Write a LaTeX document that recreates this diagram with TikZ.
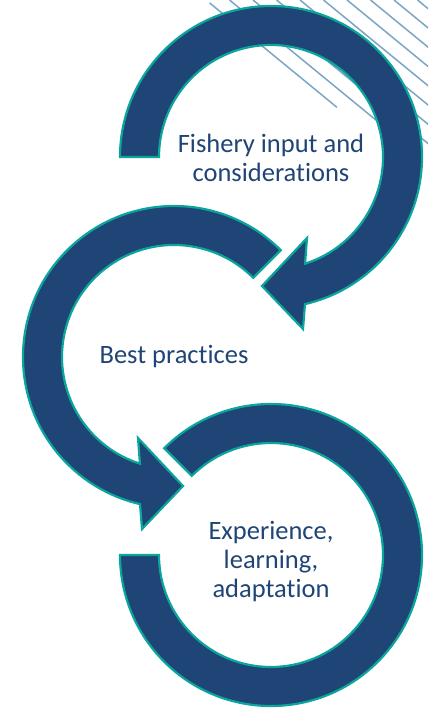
\documentclass[tikz,border=0pt]{standalone}
\usepackage{fontspec}
\setmainfont{Carlito}[Ligatures={NoCommon}]
\usepackage{xcolor}
\usetikzlibrary{positioning}

\definecolor{ringblue}{RGB}{31,68,118}
\definecolor{ringteal}{RGB}{12,165,155}
\definecolor{hatchblue}{RGB}{122,166,196}

\tikzset{
  ringband/.style={fill=ringblue,draw=ringteal,line width=2.2pt,line join=miter},
  hatchline/.style={draw=hatchblue,line width=1.5pt},
  ringlabel/.style={align=center,text=ringblue,font=\fontsize{26.5}{29}\selectfont,inner sep=0pt}
}

\begin{document}
\begin{tikzpicture}[x=1pt,y=1pt]
\useasboundingbox (0,0) rectangle (428,708);
\coordinate (c1) at (271,551);
\coordinate (c2) at (174,351);
\coordinate (c3) at (271,153);

% hatching in the top right corner
\begin{scope}
\clip (0,0) rectangle (428,708);
\draw [hatchline] (209.7,705) -- (337,600.6);
\draw [hatchline] (229.5,708) -- (380,584.6);
\foreach \k in {2,...,9}
  \draw [hatchline] (206+23.5*\k,708) -- ++(220,-180.4);
\end{scope}

% first ring, arrow pointing down left
\begin{scope}[shift={(c1)}]
\filldraw [ringband] (180:151pt) arc [start angle=180, end angle=-77, radius=151pt]
  -- (32,-172) -- (-9,-129) -- (36,-81)
  -- (-72.3:112pt) arc [start angle=-72.3, end angle=180, radius=112pt] -- cycle;
\end{scope}

% second ring, arrow pointing down right
\begin{scope}[shift={(c2)}]
\filldraw [ringband] (45:151pt) arc [start angle=45, end angle=257, radius=151pt]
  -- (-32,-172) -- (9,-129) -- (-36,-81)
  -- (252.3:112pt) arc [start angle=252.3, end angle=45, radius=112pt] -- cycle;
\end{scope}

% third ring, no arrow
\begin{scope}[shift={(c3)}]
\filldraw [ringband] (135:151pt) arc [start angle=135, end angle=-180, radius=151pt]
  -- (180:112pt) arc [start angle=-180, end angle=135, radius=112pt] -- cycle;
\end{scope}

\node [ringlabel] (fishery) at ([yshift=-1pt]c1) {Fishery input and\\considerations};
\node [ringlabel] (practices) at (c2) {Best practices};
\node [ringlabel] (experience) at ([yshift=-7pt]c3) {Experience,\\learning,\\adaptation};
\end{tikzpicture}
\end{document}
